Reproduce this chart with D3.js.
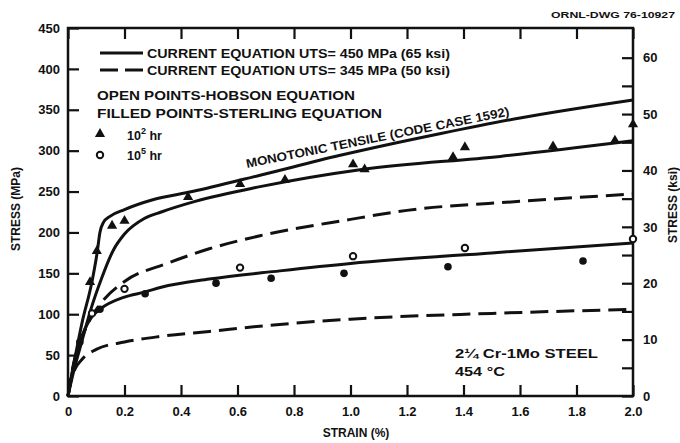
<!DOCTYPE html>
<html>
<head>
<meta charset="utf-8">
<script src="https://cdn.jsdelivr.net/npm/d3@7"></script>
<style>
  body { margin: 0; background: #fff; }
  text { font-family: "Liberation Sans", Arial, sans-serif; font-weight: bold; fill: #111; }
</style>
</head>
<body>
<div class="chart"></div>
<script>
// curves: strain (%) and stress (MPa)
var monoStrain = [0, 0.05, 0.085, 0.103, 0.113, 0.125, 0.15, 0.2, 0.3, 0.44, 0.68, 0.96, 1.32, 1.6, 2.0];
var monoStress = [0, 90, 140, 175, 200, 212, 220, 228, 240, 250, 270, 294, 321, 340, 362];

var uts450hiStrain = [0, 0.02, 0.05, 0.08, 0.12, 0.16, 0.2, 0.27, 0.33, 0.45, 0.68, 1.04, 1.53, 2.0];
var uts450hiStress = [0, 30, 68, 105, 145, 178, 198, 217, 225, 238, 256, 277, 293, 312];

var uts345hiStrain = [0, 0.02, 0.05, 0.08, 0.12, 0.2, 0.35, 0.5, 0.68, 1.0, 1.2, 1.6, 2.0];
var uts345hiStress = [0, 40, 72, 95, 115, 140, 162, 180, 196, 216, 227, 238, 247];

var uts450loStrain = [0, 0.02, 0.042, 0.08, 0.113, 0.2, 0.27, 0.33, 0.5, 0.75, 1.0, 1.5, 2.0];
var uts450loStress = [0, 38, 66, 95, 106, 121, 127, 133, 143, 153, 162, 175, 187];

var uts345loStrain = [0, 0.01, 0.025, 0.05, 0.1, 0.2, 0.33, 0.5, 0.7, 1.0, 1.5, 2.0];
var uts345loStress = [0, 18, 33, 45, 57, 66, 73, 79, 86, 94, 101, 106];

// data points
var tri2Strain = [0.078, 0.102, 0.156, 0.2, 0.425, 0.609, 0.768, 1.009, 1.05, 1.363, 1.405, 1.717, 1.936, 2.0];
var tri2Stress = [138, 176, 207, 213, 242, 258, 263, 282, 276, 291, 303, 304, 311, 331];

var openCircStrain = [0.085, 0.2, 0.609, 1.009, 1.405, 2.0];
var openCircStress = [101, 131, 157, 171, 181, 192];

var fillCircStrain = [0.042, 0.113, 0.273, 0.524, 0.719, 0.977, 1.345, 1.823];
var fillCircStress = [66, 106, 125, 138, 144, 150, 158, 165];

var xTicks = [0, 0.2, 0.4, 0.6, 0.8, 1.0, 1.2, 1.4, 1.6, 1.8, 2.0];
var xTickLabels = ["0", "0.2", "0.4", "0.6", "0.8", "1.0", "1.2", "1.4", "1.6", "1.8", "2.0"];
var mpaTicks = [0, 50, 100, 150, 200, 250, 300, 350, 400, 450];
var ksiTicks = [0, 5, 10, 15, 20, 25, 30, 35, 40, 45, 50, 55, 60];

var svgWidth = 680;
var svgHeight = 443;
var plot = { left: 68, right: 633, top: 28, bottom: 396 };

var svg = d3.select(".chart")
    .append("svg")
    .attr("width", svgWidth)
    .attr("height", svgHeight);

// scales
var x = d3.scaleLinear().domain([0, 2]).range([plot.left, plot.right]);
var y = d3.scaleLinear().domain([0, 450]).range([plot.bottom, plot.top]);
var yKsi = d3.scaleLinear().domain([0, 450 / 6.895]).range([plot.bottom, plot.top]);

// axes, ticks pointing into the plot
var leftAxis = svg.append("g")
    .attr("transform", `translate(${plot.left},0)`)
    .call(d3.axisLeft(y).tickValues(mpaTicks).tickSize(-11).tickPadding(8));

var bottomAxis = svg.append("g")
    .attr("transform", `translate(0,${plot.bottom})`)
    .call(d3.axisBottom(x).tickValues(xTicks).tickSize(-11).tickPadding(11)
        .tickFormat((d, i) => xTickLabels[i]));

var topAxis = svg.append("g")
    .attr("transform", `translate(0,${plot.top})`)
    .call(d3.axisTop(x).tickValues(xTicks).tickSize(-11).tickFormat(""));

var rightAxis = svg.append("g")
    .attr("transform", `translate(${plot.right},0)`)
    .call(d3.axisRight(yKsi).tickValues(ksiTicks).tickSize(-11).tickPadding(10)
        .tickFormat(d => d % 10 === 0 ? d : ""));

[leftAxis, bottomAxis, topAxis, rightAxis].forEach(function (g) {
    g.select(".domain").remove();
    g.selectAll(".tick line").attr("stroke", "#111").attr("stroke-width", 2.2);
    g.selectAll(".tick text")
        .attr("font-size", 13)
        .attr("font-family", "Liberation Sans, Arial, sans-serif")
        .attr("font-weight", "bold")
        .attr("fill", "#111");
});

// frame
svg.append("rect")
    .attr("x", plot.left)
    .attr("y", plot.top)
    .attr("width", plot.right - plot.left)
    .attr("height", plot.bottom - plot.top)
    .attr("fill", "none")
    .attr("stroke", "#111")
    .attr("stroke-width", 2.5);

// curves
var line = d3.line()
    .x(d => x(d[0]))
    .y(d => y(d[1]))
    .curve(d3.curveMonotoneX);

function pairs(xs, ys) {
    return xs.map((v, i) => [v, ys[i]]);
}

var curves = [
    { data: pairs(monoStrain, monoStress), dash: null },
    { data: pairs(uts450hiStrain, uts450hiStress), dash: null },
    { data: pairs(uts345hiStrain, uts345hiStress), dash: "18,8" },
    { data: pairs(uts450loStrain, uts450loStress), dash: null },
    { data: pairs(uts345loStrain, uts345loStress), dash: "18,8" }
];

svg.selectAll("path.curve")
    .data(curves)
    .enter()
    .append("path")
    .attr("class", "curve")
    .attr("d", d => line(d.data))
    .attr("fill", "none")
    .attr("stroke", "#111")
    .attr("stroke-width", 3)
    .attr("stroke-dasharray", d => d.dash);

// markers
var tri = d3.symbol().type(d3.symbolTriangle).size(45);

svg.selectAll("path.tri")
    .data(pairs(tri2Strain, tri2Stress))
    .enter()
    .append("path")
    .attr("class", "tri")
    .attr("d", tri)
    .attr("transform", d => `translate(${x(d[0])},${y(d[1]) - 1})`)
    .attr("fill", "#111");

svg.selectAll("circle.filled")
    .data(pairs(fillCircStrain, fillCircStress))
    .enter()
    .append("circle")
    .attr("class", "filled")
    .attr("cx", d => x(d[0]))
    .attr("cy", d => y(d[1]))
    .attr("r", 3.8)
    .attr("fill", "#111");

svg.selectAll("circle.open")
    .data(pairs(openCircStrain, openCircStress))
    .enter()
    .append("circle")
    .attr("class", "open")
    .attr("cx", d => x(d[0]))
    .attr("cy", d => y(d[1]))
    .attr("r", 3.2)
    .attr("fill", "#fff")
    .attr("stroke", "#111")
    .attr("stroke-width", 2);

// legend
svg.append("line")
    .attr("x1", 100).attr("x2", 143).attr("y1", 53).attr("y2", 53)
    .attr("stroke", "#111").attr("stroke-width", 3);
svg.append("line")
    .attr("x1", 100).attr("x2", 143).attr("y1", 70).attr("y2", 70)
    .attr("stroke", "#111").attr("stroke-width", 3)
    .attr("stroke-dasharray", "18,7");

var legendText = [
    { x: 147, y: 58, t: "CURRENT EQUATION UTS= 450 MPa (65 ksi)", len: 303 },
    { x: 147, y: 75, t: "CURRENT EQUATION UTS= 345 MPa (50 ksi)", len: 303 },
    { x: 97, y: 100, t: "OPEN POINTS-HOBSON EQUATION", len: 258 },
    { x: 97, y: 118, t: "FILLED POINTS-STERLING EQUATION", len: 285 }
];
svg.selectAll("text.legend")
    .data(legendText)
    .enter()
    .append("text")
    .attr("class", "legend")
    .attr("x", d => d.x)
    .attr("y", d => d.y)
    .attr("font-size", 12.5)
    .attr("textLength", d => d.len)
    .attr("lengthAdjust", "spacingAndGlyphs")
    .text(d => d.t);

svg.append("path")
    .attr("d", tri)
    .attr("transform", "translate(100,134)")
    .attr("fill", "#111");
svg.append("circle")
    .attr("cx", 100).attr("cy", 155).attr("r", 3.2)
    .attr("fill", "#fff").attr("stroke", "#111").attr("stroke-width", 2);

var t1 = svg.append("text").attr("x", 127).attr("y", 140).attr("font-size", 12.5);
t1.append("tspan").text("10");
t1.append("tspan").attr("font-size", 9).attr("dy", -6).text("2");
t1.append("tspan").attr("dy", 6).text(" hr");

var t2 = svg.append("text").attr("x", 127).attr("y", 160).attr("font-size", 12.5);
t2.append("tspan").text("10");
t2.append("tspan").attr("font-size", 9).attr("dy", -6).text("5");
t2.append("tspan").attr("dy", 6).text(" hr");

// annotations
svg.append("text")
    .attr("transform", "translate(247,168) rotate(-11.3)")
    .attr("font-size", 12.5)
    .attr("textLength", 268)
    .attr("lengthAdjust", "spacingAndGlyphs")
    .text("MONOTONIC TENSILE (CODE CASE 1592)");

svg.append("text")
    .attr("x", 455).attr("y", 358)
    .attr("font-size", 12.5)
    .attr("textLength", 143)
    .attr("lengthAdjust", "spacingAndGlyphs")
    .text("2¼ Cr-1Mo STEEL");
svg.append("text")
    .attr("x", 455).attr("y", 376)
    .attr("font-size", 12.5)
    .attr("textLength", 50)
    .attr("lengthAdjust", "spacingAndGlyphs")
    .text("454 °C");

svg.append("text")
    .attr("x", 675).attr("y", 18)
    .attr("text-anchor", "end")
    .attr("font-size", 9.5)
    .attr("textLength", 124)
    .attr("lengthAdjust", "spacingAndGlyphs")
    .text("ORNL-DWG 76-10927");

// axis titles
svg.append("text")
    .attr("transform", "translate(20,209) rotate(-90)")
    .attr("text-anchor", "middle")
    .attr("font-size", 12)
    .text("STRESS (MPa)");

svg.append("text")
    .attr("transform", "translate(677,205) rotate(-90)")
    .attr("text-anchor", "middle")
    .attr("font-size", 12)
    .text("STRESS (ksi)");

svg.append("text")
    .attr("x", 356).attr("y", 437)
    .attr("text-anchor", "middle")
    .attr("font-size", 12)
    .text("STRAIN (%)");
</script>
</body>
</html>
